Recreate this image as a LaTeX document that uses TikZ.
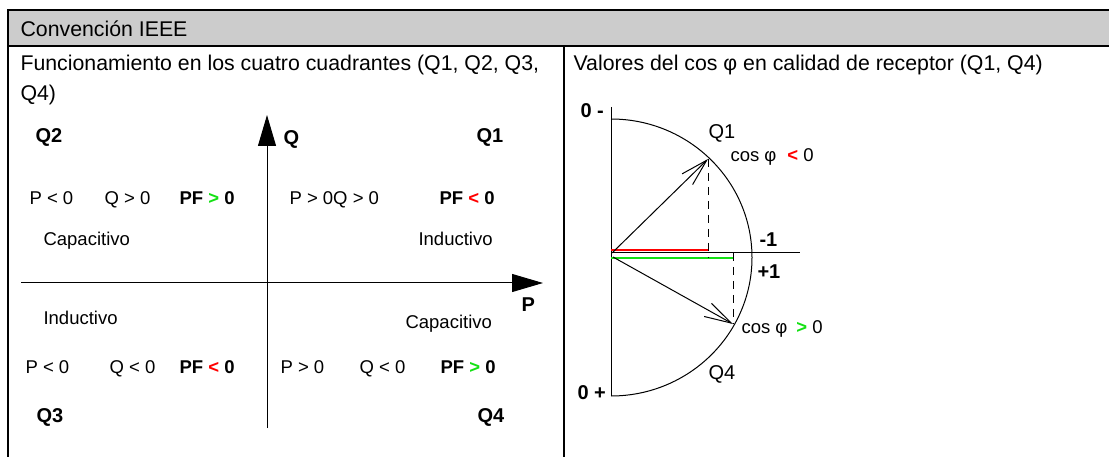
\documentclass[tikz,border=0pt]{standalone}
\usepackage{fontspec}
\setmainfont{Liberation Sans}
\usetikzlibrary{arrows.meta}
\definecolor{hdrgray}{RGB}{204,204,204}
\definecolor{pfgreen}{RGB}{20,225,20}
\definecolor{pfred}{RGB}{255,0,0}
\newcommand{\bodyfont}{\fontsize{18.5}{22}\selectfont}
\newcommand{\quadfont}{\fontsize{20}{24}\selectfont}
\newcommand{\ttlfont}{\fontsize{21.3}{25}\selectfont}
\newcommand{\pfgt}{\textcolor{pfgreen}{\textbf{>}}}
\newcommand{\pflt}{\textcolor{pfred}{\textbf{<}}}
\begin{document}
\begin{tikzpicture}[x=1pt,y=-1pt,line width=1.1pt,
  txt/.style={anchor=base west,inner sep=0pt,font=\bodyfont},
  bld/.style={anchor=base west,inner sep=0pt,font=\bodyfont\bfseries},
  quad/.style={anchor=base west,inner sep=0pt,font=\quadfont\bfseries},
  ttl/.style={anchor=base west,inner sep=0pt,font=\ttlfont},
  axis/.style={line width=1pt,-{Triangle[length=31pt,width=18pt]}},
  vec/.style={line width=1pt,-{Straight Barb[length=27pt,width=15pt,line width=1pt]}},
  proj/.style={line width=1pt,dash pattern=on 8pt off 6pt}]
\useasboundingbox (0,0) rectangle (1109,457);
% table
\fill[hdrgray] (8,10) rectangle (1109,46);
\draw (1109,10) -- (8,10) -- (8,457);
\draw (8,46) -- (1109,46);
\draw (564,46) -- (564,457);
\node[ttl] (hdr) at (20,37) {Convención IEEE};
\node[ttl] (ttlA) at (20,71) {Funcionamiento en los cuatro cuadrantes (Q1, Q2, Q3,};
\node[ttl] (ttlAb) at (20,101) {Q4)};
\node[ttl] (ttlB) at (573,71) {Valores del cos φ en calidad de receptor (Q1, Q4)};

% four quadrants
\coordinate (qbot) at (267,428);
\coordinate (qtop) at (267,115);
\coordinate (pleft) at (21,283);
\coordinate (pright) at (543,283);
\draw[axis] (qbot) -- (qtop);
\draw[axis] (pleft) -- (pright);
\node[quad] (qlbl) at (283,145) {Q};
\node[quad] (plbl) at (521,312) {P};
\node[quad] (qtwo) at (35,143) {Q2};
\node[quad] (qone) at (476,143) {Q1};
\node[quad] (qthree) at (36,422) {Q3};
\node[quad] (qfour) at (477,422) {Q4};
\node[txt] (a1) at (29,205) {P < 0};
\node[txt] (a2) at (104,205) {Q > 0};
\node[bld] (a3) at (179,205) {PF \pfgt{} 0};
\node[txt] (b1) at (289,205) {P > 0Q > 0};
\node[bld] (b2) at (439,205) {PF \pflt{} 0};
\node[txt] (capA) at (43,246) {Capacitivo};
\node[txt] (indA) at (418,246) {Inductivo};
\node[txt] (indB) at (43,324) {Inductivo};
\node[txt] (capB) at (405,328) {Capacitivo};
\node[txt] (c1) at (25,373) {P < 0};
\node[txt] (c2) at (109,373) {Q < 0};
\node[bld] (c3) at (179,373) {PF \pflt{} 0};
\node[txt] (d1) at (280,373) {P > 0};
\node[txt] (d2) at (359,373) {Q < 0};
\node[bld] (d3) at (440,373) {PF \pfgt{} 0};

% cos phi
\coordinate (vtop) at (611,107);
\coordinate (vbot) at (611,396);
\coordinate (o) at (611,253);
\coordinate (hend) at (800,253);
\coordinate (tipA) at (708,159);
\coordinate (tipB) at (733,324);
\coordinate (footA) at (708,258);
\coordinate (footB) at (733,253);
\draw[line width=1pt] (vtop) -- (vbot);
\draw[line width=1pt] (611,119) arc[start angle=-90,end angle=90,x radius=141,y radius=138.5];
\draw[line width=1pt] (o) -- (hend);
\draw[pfred,line width=1.4pt] (611,250) -- (708,250);
\draw[pfgreen,line width=1.4pt] (611,258) -- (734,258);
\draw[vec] (612,253) -- (tipA);
\draw[vec] (613,257) -- (tipB);
\draw[proj] (tipA) -- (footA);
\draw[proj] (footB) -- (tipB);
\node[quad] (zm) at (580,118) {0 -};
\node[quad] (zp) at (577,399) {0 +};
\node[txt,font=\quadfont] (qoneB) at (708,139) {Q1};
\node[txt] (cosA) at (730,162) {cos φ\hspace{11pt}\pflt{} 0};
\node[quad] (mone) at (759,247) {-1};
\node[quad] (pone) at (757,279) {+1};
\node[txt] (cosB) at (741,333) {cos φ\hspace{9pt}\pfgt{} 0};
\node[txt,font=\quadfont] (qfourB) at (708,379) {Q4};
\end{tikzpicture}
\end{document}
